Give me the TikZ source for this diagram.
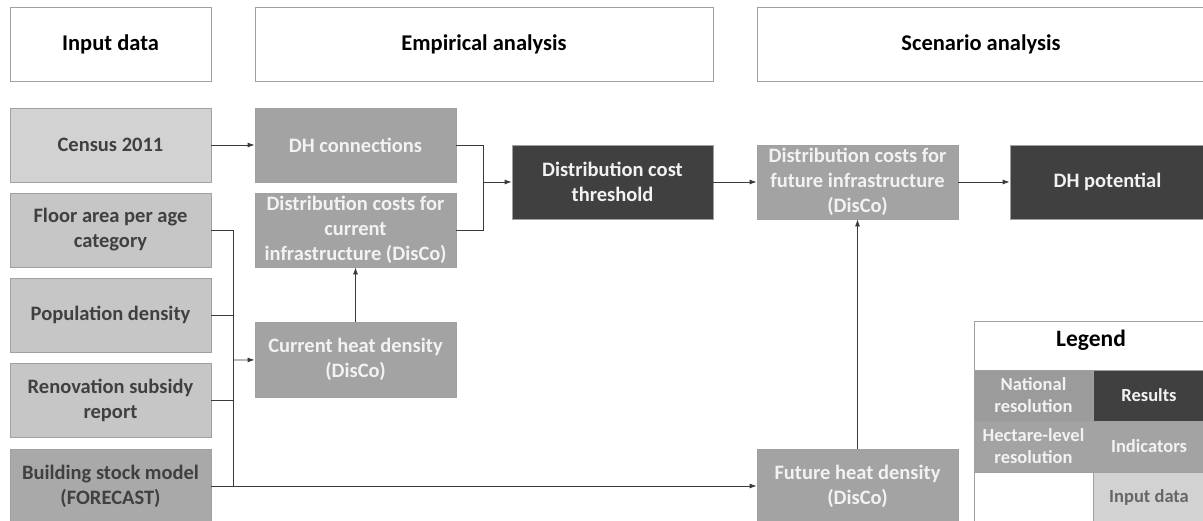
\documentclass[tikz,border=0pt]{standalone}
\usepackage{fontspec}
\setmainfont{Carlito}
\usetikzlibrary{arrows.meta}
\definecolor{txtdark}{HTML}{404040}
\definecolor{inlight}{HTML}{D2D2D2}
\definecolor{inmid}{HTML}{C6C6C6}
\definecolor{indark}{HTML}{A9A9A9}
\definecolor{indic}{HTML}{A3A3A3}
\definecolor{natres}{HTML}{9B9B9B}
\definecolor{result}{HTML}{404040}
\definecolor{edge}{HTML}{A0A0A0}
\definecolor{wire}{HTML}{3A3A3A}
\begin{document}
\begin{tikzpicture}[x=1pt, y=-1pt,
  box/.style={draw=edge, line width=0.8pt, inner sep=0pt, align=center,
    font=\fontsize{20.5}{25}\selectfont\bfseries},
  head/.style={box, fill=white, font=\fontsize{22.5}{26}\selectfont\bfseries, text=black},
  input/.style={box, fill=inmid, text=txtdark},
  indicator/.style={box, fill=indic, text=white!95!black},
  resbox/.style={box, fill=result, text=white!95!black},
  leg/.style={box, font=\fontsize{18.5}{22}\selectfont\bfseries},
  con/.style={draw=wire, line width=0.8pt},
  arr/.style={con, -{Latex[length=7pt,width=5pt]}}]
\useasboundingbox (0,0) rectangle (1203,520);

% headers
\node[head, minimum width=201, minimum height=74] (hin) at (110.5,44){Input data};
\node[head, minimum width=458, minimum height=74] (hemp) at (484,44){Empirical analysis};
\node[head, minimum width=448, minimum height=74] (hsce) at (981,44){Scenario analysis};

% input data
\node[input, fill=inlight, minimum width=201, minimum height=74] (cen) at (110.5,145){Census 2011};
\node[input, minimum width=201, minimum height=74] (flo) at (110.5,230){Floor area per age\\category};
\node[input, minimum width=201, minimum height=74] (pop) at (110.5,315){Population density};
\node[input, minimum width=201, minimum height=74] (ren) at (110.5,400){Renovation subsidy\\report};
\node[input, fill=indark, minimum width=201, minimum height=74] (bsm) at (110.5,486){Building stock model\\(FORECAST)};

% empirical analysis
\node[indicator, minimum width=201, minimum height=74] (dhc) at (355.5,145){DH connections};
\node[indicator, minimum width=201, minimum height=74] (dcc) at (355.5,230){Distribution costs for\\current\\infrastructure (DisCo)};
\node[indicator, minimum width=201, minimum height=75] (chd) at (355.5,359.5){Current heat density\\(DisCo)};
\node[resbox, minimum width=201, minimum height=74] (dct) at (612.5,182){Distribution cost\\threshold};

% scenario analysis
\node[indicator, minimum width=201, minimum height=74] (dcf) at (857.5,182){Distribution costs for\\future infrastructure\\(DisCo)};
\node[resbox, minimum width=195, minimum height=74] (dhp) at (1107.5,182){DH potential};
\node[indicator, minimum width=201, minimum height=74] (fhd) at (857.5,486){Future heat density\\(DisCo)};

% legend
\node[leg, fill=white, minimum width=231, minimum height=201, anchor=north west] (lgd) at (974,321){};
\node[font=\fontsize{23.5}{26}\selectfont\bfseries] (lgt) at (1091,340){Legend};
\node[leg, fill=natres, text=white!95!black, minimum width=119, minimum height=51] (lnat) at (1033.5,395.5){National\\resolution};
\node[leg, fill=result, text=white!95!black, minimum width=112, minimum height=51] (lres) at (1149,395.5){Results};
\node[leg, fill=indic, text=white!95!black, minimum width=119, minimum height=51] (lhec) at (1033.5,446.5){Hectare-level\\resolution};
\node[leg, fill=indic, text=white!95!black, minimum width=112, minimum height=51] (lind) at (1149,446.5){Indicators};
\node[leg, fill=inlight, text=txtdark!80, minimum width=112, minimum height=50] (linp) at (1149,497){Input data};

% connectors
\coordinate (jA) at (483,182);
\coordinate (jB) at (233,360);
\coordinate (jC) at (233,486);

\draw[arr] (cen) -- (dhc);
\draw[con] (dhc.east) -| (jA);
\draw[con] (dcc.east) -| (jA);
\draw[arr] (jA) -- (dct);

\draw[con] (flo.east) -| (jC);
\draw[con] (pop.east) -- (pop.east -| jB);
\draw[con] (ren.east) -- (ren.east -| jB);
\draw[arr] (jB) -- (chd);
\draw[arr] (chd) -- (dcc);

\draw[arr] (bsm) -- (fhd);
\draw[arr] (fhd) -- (dcf);
\draw[arr] (dct) -- (dcf);
\draw[arr] (dcf) -- (dhp);

\end{tikzpicture}
\end{document}
